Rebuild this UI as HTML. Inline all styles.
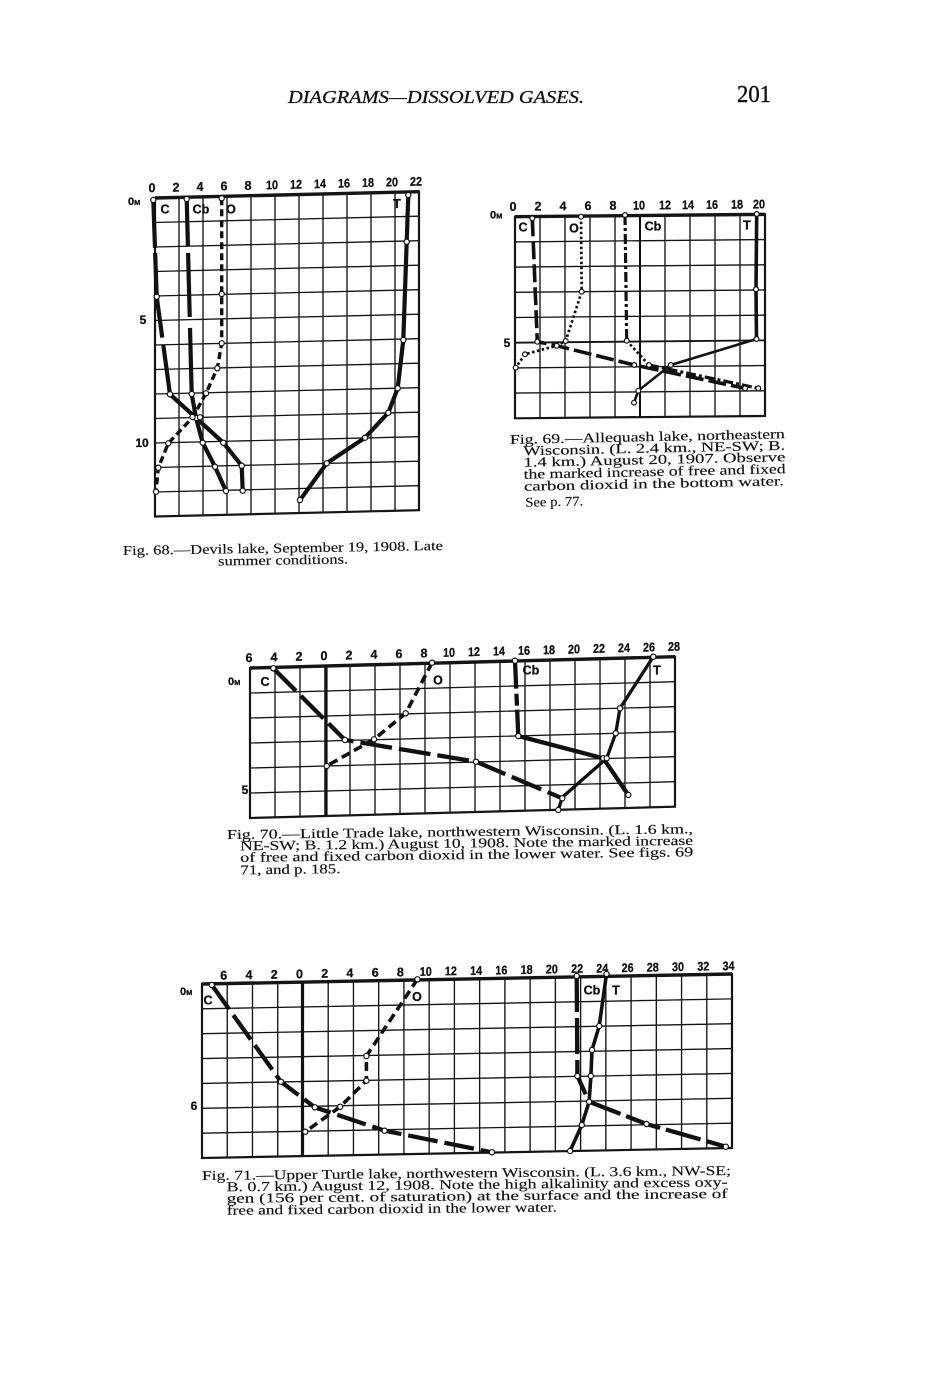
<!DOCTYPE html>
<html><head><meta charset="utf-8"><style>
body{margin:0;background:#fff}
svg{display:block}
.g{stroke:#151515;stroke-width:1.35;fill:none}
.f{stroke:#151515;stroke-width:2.2;fill:none}
.tb{stroke:#151515;stroke-width:3.4;fill:none}
.lab{font-family:"Liberation Sans Narrow","Liberation Sans",sans-serif;font-weight:bold;font-size:12.5px;fill:#111;text-anchor:middle;stroke:#111;stroke-width:0.3}
.leg{font-family:"Liberation Sans",sans-serif;font-weight:bold;font-size:12.5px;fill:#111;text-anchor:middle;stroke:#111;stroke-width:0.3}
.dep{font-family:"Liberation Sans Narrow","Liberation Sans",sans-serif;font-weight:bold;font-size:12px;fill:#111;text-anchor:middle;stroke:#111;stroke-width:0.3}
.cap{font-family:"Liberation Serif",serif;font-size:13.5px;fill:#111;stroke:#111;stroke-width:0.15}
.s{fill:none;stroke:#111;stroke-linejoin:round}
.m{fill:#fff;stroke:#111;stroke-width:1.2}
</style></head><body>
<svg width="948" height="1380" viewBox="0 0 948 1380" xmlns="http://www.w3.org/2000/svg">
<rect width="948" height="1380" fill="#fff"/>

<!-- Header -->
<text x="288" y="103" font-family="Liberation Serif, serif" font-style="italic" font-size="18" fill="#111" stroke="#111" stroke-width="0.3" textLength="296" lengthAdjust="spacingAndGlyphs">DIAGRAMS—DISSOLVED GASES.</text>
<text x="737" y="102" font-family="Liberation Serif, serif" font-size="24" fill="#111" stroke="#111" stroke-width="0.4" textLength="34" lengthAdjust="spacingAndGlyphs">201</text>

<!-- ============ FIG 68 ============ -->
<g transform="translate(155,198) skewY(-1.37)">
<path class="g" d="M24 0V318.5M48 0V318.5M72 0V318.5M96 0V318.5M120 0V318.5M144 0V318.5M168 0V318.5M192 0V318.5M216 0V318.5M240 0V318.5M0 24.5H264M0 49H264M0 73.5H264M0 98H264M0 122.5H264M0 147H264M0 171.5H264M0 196H264M0 220.5H264M0 245H264M0 269.5H264M0 294H264"/>
<rect class="f" x="0" y="0" width="264" height="318.5"/>
<path class="tb" d="M0 0H264"/>
<g class="lab">
<text x="-3" y="-6">0</text><text x="21" y="-6">2</text><text x="45" y="-6">4</text><text x="69" y="-6">6</text><text x="93" y="-6">8</text><text x="117" y="-6" textLength="12" lengthAdjust="spacingAndGlyphs">10</text><text x="141" y="-6" textLength="12" lengthAdjust="spacingAndGlyphs">12</text><text x="165" y="-6" textLength="12" lengthAdjust="spacingAndGlyphs">14</text><text x="189" y="-6" textLength="12" lengthAdjust="spacingAndGlyphs">16</text><text x="213" y="-6" textLength="12" lengthAdjust="spacingAndGlyphs">18</text><text x="237" y="-6" textLength="12" lengthAdjust="spacingAndGlyphs">20</text><text x="261" y="-6" textLength="12" lengthAdjust="spacingAndGlyphs">22</text>
</g>
</g>
<text x="128" y="205" font-family="Liberation Sans, sans-serif" font-weight="bold" font-size="11" fill="#111" stroke="#111" stroke-width="0.3">0<tspan font-size="7.5">M</tspan></text>
<text class="dep" x="143" y="324">5</text>
<text class="dep" x="142" y="447">10</text>
<text class="leg" x="165" y="213.5">C</text>
<text class="leg" x="201" y="213.5">Cb</text>
<text class="leg" x="231" y="213.5">O</text>
<text class="leg" x="397" y="208">T</text>

<path class="s" stroke-width="4.2" stroke-dasharray="48 5 85 7 1000" d="M153.3,200 L156.7,296.7 L170,394.3 L223.3,442.7 L241.7,465.7 L242.7,490.7"/>
<path class="s" stroke-width="4.2" stroke-dasharray="47 7 64 11 1000" d="M186.7,199 L191.7,394 L196,418 L202.7,442.7 L215,466.7 L226,491"/>
<path class="s" stroke-width="3.4" stroke-dasharray="7 4" d="M221.7,198.3 L221.7,294 L221.7,343.3 L217.3,368.3 L206,393.3 L193,417 L168.3,443.3 L158.3,467.7 L156,491.7"/>
<path class="s" stroke-width="4.2" d="M408.3,195 L406.7,241.7 L403.3,340 L397.7,388.3 L388.3,412.7 L365,437.7 L326.7,463.3 L300,500"/>
<g class="m">
<circle cx="153.3" cy="200" r="2.6"/><circle cx="156.7" cy="296.7" r="2.6"/><circle cx="170" cy="394.3" r="2.6"/><circle cx="223.3" cy="442.7" r="2.6"/><circle cx="241.7" cy="465.7" r="2.6"/><circle cx="242.7" cy="490.7" r="2.6"/>
<circle cx="186.7" cy="199" r="2.6"/><circle cx="191.7" cy="394" r="2.6"/><circle cx="196.5" cy="418" r="2.6"/><circle cx="202.7" cy="442.7" r="2.6"/><circle cx="215" cy="466.7" r="2.6"/><circle cx="226" cy="491" r="2.6"/>
<circle cx="221.7" cy="198.3" r="2.6"/><circle cx="221.7" cy="294" r="2.6"/><circle cx="221.7" cy="343.3" r="2.6"/><circle cx="217.3" cy="368.3" r="2.6"/><circle cx="206" cy="393.3" r="2.6"/><circle cx="192.5" cy="417" r="2.6"/><circle cx="200" cy="417.3" r="2.6"/><circle cx="168.3" cy="443.3" r="2.6"/><circle cx="158.3" cy="467.7" r="2.6"/><circle cx="156" cy="491.7" r="2.6"/>
<circle cx="408.3" cy="195" r="2.6"/><circle cx="406.7" cy="241.7" r="2.6"/><circle cx="403.3" cy="340" r="2.6"/><circle cx="397.7" cy="388.3" r="2.6"/><circle cx="388.3" cy="412.7" r="2.6"/><circle cx="365" cy="437.7" r="2.6"/><circle cx="326.7" cy="463.3" r="2.6"/><circle cx="300" cy="500" r="2.6"/>
</g>

<g transform="rotate(-0.9 123 555)">
<text class="cap" x="123" y="555" textLength="320" lengthAdjust="spacingAndGlyphs">Fig. 68.—Devils lake, September 19, 1908.  Late</text>
<text class="cap" x="218" y="567" textLength="130" lengthAdjust="spacingAndGlyphs">summer conditions.</text>
</g>

<!-- ============ FIG 69 ============ -->
<g transform="translate(515,216.7) skewY(-0.54)">
<path class="g" d="M25 0V201.6M50 0V201.6M75 0V201.6M100 0V201.6M150 0V201.6M175 0V201.6M200 0V201.6M225 0V201.6M0 25.2H250M0 50.4H250M0 75.6H250M0 100.8H250M0 151.2H250M0 176.4H250"/>
<path stroke="#111" stroke-width="2" d="M125 0V201.6"/>
<path stroke="#111" stroke-width="1.8" d="M0 126H250"/>
<rect class="f" x="0" y="0" width="250" height="201.6"/>
<path class="tb" d="M0 0H250"/>
<g class="lab">
<text x="-2" y="-6">0</text><text x="23" y="-6">2</text><text x="48" y="-6">4</text><text x="73" y="-6">6</text><text x="98" y="-6">8</text><text x="124" y="-6" textLength="12" lengthAdjust="spacingAndGlyphs">10</text><text x="150" y="-6" textLength="12" lengthAdjust="spacingAndGlyphs">12</text><text x="173" y="-6" textLength="12" lengthAdjust="spacingAndGlyphs">14</text><text x="197" y="-6" textLength="12" lengthAdjust="spacingAndGlyphs">16</text><text x="222" y="-6" textLength="12" lengthAdjust="spacingAndGlyphs">18</text><text x="244" y="-6" textLength="12" lengthAdjust="spacingAndGlyphs">20</text>
</g>
</g>
<text x="490" y="218.5" font-family="Liberation Sans, sans-serif" font-weight="bold" font-size="11" fill="#111" stroke="#111" stroke-width="0.3">0<tspan font-size="7.5">M</tspan></text>
<text class="dep" x="507" y="347">5</text>
<text class="leg" x="523" y="231.5">C</text>
<text class="leg" x="574" y="232.5">O</text>
<text class="leg" x="653" y="230.5">Cb</text>
<text class="leg" x="747" y="229.5">T</text>

<path class="s" stroke-width="3.6" stroke-dasharray="18 5" d="M532.3,218.3 L537.3,341.7 L556.7,345.7 L634.3,365 L745,388.3"/>
<path class="s" stroke-width="2.7" stroke-dasharray="2.5 2.5" d="M581,216.7 L581.7,291.7 L565.7,341 L556.7,345.7 L525,354.3 L515.7,367.7"/>
<path class="s" stroke-width="3.2" stroke-dasharray="10 3 3 3" d="M625,215 L626.7,340.7"/>
<path class="s" stroke-width="2.7" stroke-dasharray="2.5 2.5" d="M626.7,340.7 L649,365"/>
<path class="s" stroke-width="3.2" stroke-dasharray="10 3 3 3" d="M649,365 L758.3,388.3"/>
<path class="s" stroke-width="3.6" d="M756.7,214 L756,289.3 L756.5,339"/>
<path class="s" stroke-width="2.5" d="M756.5,339 L670.7,365 L638.3,390.7 L634,402.7"/>
<g class="m">
<circle cx="532.3" cy="218.3" r="2.4"/><circle cx="537.3" cy="341.7" r="2.4"/><circle cx="556.7" cy="345.7" r="2.4"/><circle cx="634.3" cy="365" r="2.4"/><circle cx="745" cy="388.3" r="2.4"/>
<circle cx="581" cy="216.7" r="2.4"/><circle cx="581.7" cy="291.7" r="2.4"/><circle cx="565.7" cy="341" r="2.4"/><circle cx="525" cy="354.3" r="2.4"/><circle cx="515.7" cy="367.7" r="2.4"/>
<circle cx="625" cy="215" r="2.4"/><circle cx="626.7" cy="340.7" r="2.4"/><circle cx="649" cy="365" r="2.4"/><circle cx="758.3" cy="388.3" r="2.4"/>
<circle cx="756.7" cy="214" r="2.4"/><circle cx="756" cy="289.3" r="2.4"/><circle cx="756.5" cy="339" r="2.4"/><circle cx="670.7" cy="365" r="2.4"/><circle cx="638.3" cy="390.7" r="2.4"/><circle cx="634" cy="402.7" r="2.4"/>
</g>

<g transform="rotate(-1.2 510 444)">
<text class="cap" x="510" y="444" textLength="275" lengthAdjust="spacingAndGlyphs">Fig. 69.—Allequash lake, northeastern</text>
<text class="cap" x="523" y="455.5" textLength="262" lengthAdjust="spacingAndGlyphs">Wisconsin. (L. 2.4 km., NE-SW; B.</text>
<text class="cap" x="523" y="467" textLength="262" lengthAdjust="spacingAndGlyphs">1.4 km.) August 20, 1907. Observe</text>
<text class="cap" x="523" y="479" textLength="262" lengthAdjust="spacingAndGlyphs">the marked increase of free and fixed</text>
<text class="cap" x="523" y="491" textLength="260" lengthAdjust="spacingAndGlyphs">carbon dioxid in the bottom water.</text>
<text class="cap" x="524" y="507" textLength="58" lengthAdjust="spacingAndGlyphs">See p. 77.</text>
</g>

<!-- ============ FIG 70 ============ -->
<g transform="translate(250,668) skewY(-1.52)">
<path class="g" d="M25 0V150M50 0V150M75 0V150M100 0V150M125 0V150M150 0V150M175 0V150M200 0V150M225 0V150M250 0V150M275 0V150M300 0V150M325 0V150M350 0V150M375 0V150M400 0V150M0 25H425M0 50H425M0 75H425M0 100H425M0 125H425"/>
<path stroke="#111" stroke-width="3.2" d="M76 0V150"/>
<rect class="f" x="0" y="0" width="425" height="150"/>
<path class="tb" d="M0 0H425"/>
<g class="lab">
<text x="-1" y="-6">6</text><text x="24" y="-6">4</text><text x="49" y="-6">2</text><text x="74" y="-6">0</text><text x="99" y="-6">2</text><text x="124" y="-6">4</text><text x="149" y="-6">6</text><text x="174" y="-6">8</text><text x="199" y="-6" textLength="12" lengthAdjust="spacingAndGlyphs">10</text><text x="224" y="-6" textLength="12" lengthAdjust="spacingAndGlyphs">12</text><text x="249" y="-6" textLength="12" lengthAdjust="spacingAndGlyphs">14</text><text x="274" y="-6" textLength="12" lengthAdjust="spacingAndGlyphs">16</text><text x="299" y="-6" textLength="12" lengthAdjust="spacingAndGlyphs">18</text><text x="324" y="-6" textLength="12" lengthAdjust="spacingAndGlyphs">20</text><text x="349" y="-6" textLength="12" lengthAdjust="spacingAndGlyphs">22</text><text x="374" y="-6" textLength="12" lengthAdjust="spacingAndGlyphs">24</text><text x="399" y="-6" textLength="12" lengthAdjust="spacingAndGlyphs">26</text><text x="424" y="-6" textLength="12" lengthAdjust="spacingAndGlyphs">28</text>
</g>
</g>
<text x="228" y="685" font-family="Liberation Sans, sans-serif" font-weight="bold" font-size="11" fill="#111" stroke="#111" stroke-width="0.3">0<tspan font-size="7.5">M</tspan></text>
<text class="dep" x="245" y="794">5</text>
<text class="leg" x="265" y="686">C</text>
<text class="leg" x="438" y="684.5">O</text>
<text class="leg" x="531" y="674.5">Cb</text>
<text class="leg" x="657" y="674.5">T</text>

<path class="s" stroke-width="4.3" stroke-dasharray="32 7" d="M273.3,668.3 L345,740 L476,761.7 L562.3,798.3"/>
<path class="s" stroke-width="3.6" stroke-dasharray="9 5" d="M432,662.7 L405.7,713.3 L374,739.3 L326.7,766"/>
<path class="s" stroke-width="4.3" stroke-dasharray="28 5 12 4 200 10 200" d="M515,660.7 L518.3,736 L603.3,758.3 L628.3,795"/>
<path class="s" stroke-width="3.3" d="M653.3,656.7 L620,708.3 L615.7,733.3 L606.7,758.3 L562.3,797.3 L558.3,810"/>
<g class="m">
<circle cx="273.3" cy="668.3" r="2.6"/><circle cx="345" cy="740" r="2.6"/><circle cx="476" cy="761.7" r="2.6"/><circle cx="562.3" cy="798.3" r="2.6"/>
<circle cx="432" cy="662.7" r="2.6"/><circle cx="405.7" cy="713.3" r="2.6"/><circle cx="374" cy="739.3" r="2.6"/><circle cx="326.7" cy="766" r="2.6"/>
<circle cx="515" cy="660.7" r="2.6"/><circle cx="518.3" cy="736" r="2.6"/><circle cx="603.3" cy="758.3" r="2.6"/><circle cx="628.3" cy="795" r="2.6"/>
<circle cx="653.3" cy="656.7" r="2.6"/><circle cx="620" cy="708.3" r="2.6"/><circle cx="615.7" cy="733.3" r="2.6"/><circle cx="606.7" cy="758.3" r="2.6"/><circle cx="558.3" cy="810" r="2.6"/>
</g>

<g transform="rotate(-0.7 227 839)">
<text class="cap" x="227" y="839" textLength="466" lengthAdjust="spacingAndGlyphs">Fig. 70.—Little Trade lake, northwestern Wisconsin. (L. 1.6 km.,</text>
<text class="cap" x="240" y="850.5" textLength="453" lengthAdjust="spacingAndGlyphs">NE-SW; B. 1.2 km.) August 10, 1908. Note the marked increase</text>
<text class="cap" x="240" y="862" textLength="453" lengthAdjust="spacingAndGlyphs">of free and fixed carbon dioxid in the lower water. See figs. 69</text>
<text class="cap" x="240" y="874.5" textLength="100" lengthAdjust="spacingAndGlyphs">71, and p. 185.</text>
</g>

<!-- ============ FIG 71 ============ -->
<g transform="translate(202,984) skewY(-1.08)">
<path class="g" d="M25.24 0V174M50.48 0V174M75.72 0V174M126.2 0V174M151.44 0V174M176.68 0V174M201.92 0V174M227.16 0V174M252.4 0V174M277.64 0V174M302.88 0V174M328.12 0V174M353.36 0V174M378.6 0V174M403.84 0V174M429.08 0V174M454.32 0V174M479.56 0V174M504.8 0V174M0 24.86H530M0 49.72H530M0 74.58H530M0 99.44H530M0 124.3H530M0 149.16H530"/>
<path stroke="#111" stroke-width="3.2" d="M100.5 0V174"/>
<rect class="f" x="0" y="0" width="530" height="174"/>
<path class="tb" d="M0 0H530"/>
<g class="lab">
<text x="21.7" y="-4">6</text><text x="47" y="-4">4</text><text x="72.2" y="-4">2</text><text x="97.5" y="-4">0</text><text x="122.7" y="-4">2</text><text x="147.9" y="-4">4</text><text x="173.2" y="-4">6</text><text x="198.4" y="-4">8</text><text x="223.7" y="-4" textLength="12" lengthAdjust="spacingAndGlyphs">10</text><text x="248.9" y="-4" textLength="12" lengthAdjust="spacingAndGlyphs">12</text><text x="274.1" y="-4" textLength="12" lengthAdjust="spacingAndGlyphs">14</text><text x="299.4" y="-4" textLength="12" lengthAdjust="spacingAndGlyphs">16</text><text x="324.6" y="-4" textLength="12" lengthAdjust="spacingAndGlyphs">18</text><text x="349.9" y="-4" textLength="12" lengthAdjust="spacingAndGlyphs">20</text><text x="375.1" y="-4" textLength="12" lengthAdjust="spacingAndGlyphs">22</text><text x="400.3" y="-4" textLength="12" lengthAdjust="spacingAndGlyphs">24</text><text x="425.6" y="-4" textLength="12" lengthAdjust="spacingAndGlyphs">26</text><text x="450.8" y="-4" textLength="12" lengthAdjust="spacingAndGlyphs">28</text><text x="476" y="-4" textLength="12" lengthAdjust="spacingAndGlyphs">30</text><text x="501.3" y="-4" textLength="12" lengthAdjust="spacingAndGlyphs">32</text><text x="526.5" y="-4" textLength="12" lengthAdjust="spacingAndGlyphs">34</text>
</g>
</g>
<text x="180" y="995" font-family="Liberation Sans, sans-serif" font-weight="bold" font-size="11" fill="#111" stroke="#111" stroke-width="0.3">0<tspan font-size="7.5">M</tspan></text>
<text class="dep" x="194" y="1110">6</text>
<text class="leg" x="208" y="1004.5">C</text>
<text class="leg" x="417" y="1001">O</text>
<text class="leg" x="592" y="994.5">Cb</text>
<text class="leg" x="616" y="994.5">T</text>

<path class="s" stroke-width="4.3" stroke-dasharray="30 7" d="M211.8,985 L280.9,1081.7 L314.8,1107.3 L384.6,1130.7 L491.9,1152.3"/>
<path class="s" stroke-width="3.6" stroke-dasharray="9 5" d="M417.4,979.3 L366.4,1056 L366.4,1080.7 L340.2,1106.7 L305.3,1131.7"/>
<path class="s" stroke-width="4.3" stroke-dasharray="36 6" d="M576.7,976 L577.4,1076 L589.1,1101.7 L646.5,1124 L725.8,1146.7"/>
<path class="s" stroke-width="3.6" d="M606.5,974 L599.2,1026 L592,1050 L590.9,1076 L589.1,1101.7 L581.8,1125 L570.1,1151"/>
<g class="m">
<circle cx="211.8" cy="985" r="2.6"/><circle cx="280.9" cy="1081.7" r="2.6"/><circle cx="314.8" cy="1107.3" r="2.6"/><circle cx="384.6" cy="1130.7" r="2.6"/><circle cx="491.9" cy="1152.3" r="2.6"/>
<circle cx="417.4" cy="979.3" r="2.6"/><circle cx="366.4" cy="1056" r="2.6"/><circle cx="366.4" cy="1080.7" r="2.6"/><circle cx="340.2" cy="1106.7" r="2.6"/><circle cx="305.3" cy="1131.7" r="2.6"/>
<circle cx="576.7" cy="976" r="2.6"/><circle cx="577.4" cy="1076" r="2.6"/><circle cx="589.1" cy="1101.7" r="2.6"/><circle cx="646.5" cy="1124" r="2.6"/><circle cx="725.8" cy="1146.7" r="2.6"/>
<circle cx="606.5" cy="974" r="2.6"/><circle cx="599.2" cy="1026" r="2.6"/><circle cx="592" cy="1050" r="2.6"/><circle cx="590.9" cy="1076" r="2.6"/><circle cx="581.8" cy="1125" r="2.6"/><circle cx="570.1" cy="1151" r="2.6"/>
</g>

<g transform="rotate(-0.55 202 1180)">
<text class="cap" x="202" y="1180" textLength="529" lengthAdjust="spacingAndGlyphs">Fig. 71.—Upper Turtle lake, northwestern Wisconsin. (L. 3.6 km., NW-SE;</text>
<text class="cap" x="226.5" y="1191.5" textLength="501" lengthAdjust="spacingAndGlyphs">B. 0.7 km.) August 12, 1908. Note the high alkalinity and excess oxy-</text>
<text class="cap" x="226.5" y="1203" textLength="501" lengthAdjust="spacingAndGlyphs">gen (156 per cent. of saturation) at the surface and the increase of</text>
<text class="cap" x="226.5" y="1215" textLength="330" lengthAdjust="spacingAndGlyphs">free and fixed carbon dioxid in the lower water.</text>
</g>
</svg>
</body></html>
